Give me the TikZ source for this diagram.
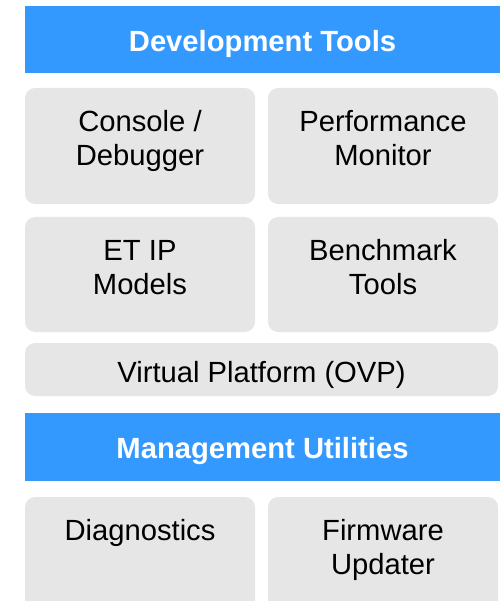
\documentclass[tikz,border=0pt]{standalone}
\usepackage{fontspec}
\setmainfont{Liberation Sans}
\definecolor{hdrblue}{HTML}{3399FF}
\definecolor{boxgray}{HTML}{E6E6E6}
\begin{document}
\begin{tikzpicture}[x=1pt,y=-1pt,
  hdr/.style={fill=hdrblue,draw=none},
  cell/.style={fill=boxgray,draw=none,rounded corners=10pt},
  hdrtext/.style={text=white,font=\fontsize{29.2}{33.5}\selectfont\bfseries,inner sep=0pt,anchor=base},
  celltext/.style={text=black,font=\fontsize{29.2}{33.5}\selectfont,inner sep=0pt,anchor=base,align=center}]
\useasboundingbox (0,0) rectangle (500,601);
% headers
\fill[hdr] (25,6) rectangle (500,73);
\node[hdrtext] (t1) at (262.5,51.7) {Development Tools};
% row 1
\fill[cell] (25,88) rectangle (255,204);
\fill[cell] (268,88) rectangle (498,204);
\node[celltext] (console) at (140,165.2) {Console /\\Debugger};
\node[celltext] (perf) at (383,165.2) {Performance\\Monitor};
% row 2
\fill[cell] (25,217) rectangle (255,332);
\fill[cell] (268,217) rectangle (498,332);
\node[celltext] (etip) at (140,294.2) {ET IP\\Models};
\node[celltext] (bench) at (383,294.2) {Benchmark\\Tools};
% virtual platform
\fill[cell] (25,343) rectangle (498,396);
\node[celltext] (ovp) at (261.5,382.3) {Virtual Platform (OVP)};
% header 2
\fill[hdr] (25,413) rectangle (500,481);
\node[hdrtext] (t2) at (262.5,458.7) {Management Utilities};
% row 3
\fill[cell] (25,497) rectangle (255,612);
\fill[cell] (268,497) rectangle (498,612);
\node[celltext] (diag) at (140,540.7) {Diagnostics};
\node[celltext] (fw) at (383,574.2) {Firmware\\Updater};
\end{tikzpicture}
\end{document}
